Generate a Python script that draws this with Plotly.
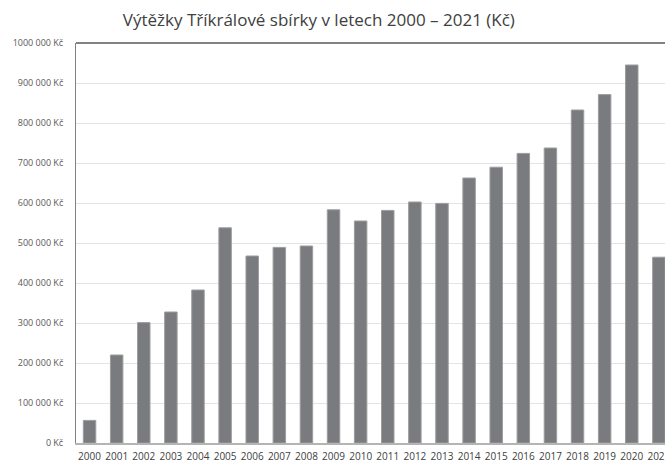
import plotly.graph_objects as go

years = [str(y) for y in range(2000, 2022)]
values = [56500, 220000, 301000, 327500, 382500, 538000, 467500, 489000, 492500, 583000,
          555000, 581500, 602500, 599000, 662500, 689500, 724000, 737500, 832500, 871000,
          945000, 464500]
tick_vals = [0, 100000, 200000, 300000, 400000, 500000, 600000, 700000, 800000, 900000, 1000000]
tick_text = ["0 Kč", "100 000 Kč", "200 000 Kč", "300 000 Kč", "400 000 Kč", "500 000 Kč",
             "600 000 Kč", "700 000 Kč", "800 000 Kč", "900 000 Kč", "1000 000 Kč"]

fig = go.Figure(go.Bar(
    x=years, y=values,
    marker=dict(color="#7a7b7f", line=dict(color="#9d9d9f", width=1)),
    hoverinfo="skip",
))

fig.update_layout(
    width=665, height=464,
    margin=dict(l=76, r=0, t=43, b=21, autoexpand=False),
    paper_bgcolor="white", plot_bgcolor="white",
    bargap=0.54,
    showlegend=False,
    font=dict(family="Open Sans", color="#595959"),
    title=dict(text="Výtěžky Tříkrálové sbírky v letech 2000 – 2021 (Kč)",
               x=0.4795, xanchor="center", xref="container",
               y=0.957, yanchor="middle", yref="container",
               font=dict(family="Open Sans", size=17, color="#404040")),
    xaxis=dict(type="category", range=[-0.5, 21.226], showgrid=False,
               showline=True, linecolor="#b4b4b4", linewidth=2,
               tickfont=dict(size=10, color="#404040"), ticks="", ticklabelstandoff=3),
    yaxis=dict(range=[0, 1000000], tickvals=tick_vals, ticktext=tick_text,
               showgrid=True, gridcolor="#e4e4e4", gridwidth=1,
               showline=True, linecolor="#808080", linewidth=1,
               zeroline=False, ticks="", ticklabelstandoff=10,
               tickfont=dict(size=9, color="#595959")),
    shapes=[dict(type="line", xref="paper", yref="paper", x0=0, x1=1, y0=1, y1=1,
                 line=dict(color="#5a5a5a", width=1.5))],
)

fig.write_html("out.html", config={"displayModeBar": False, "staticPlot": True},
               post_script="document.body.style.margin='0px';document.body.style.overflow='hidden';")
